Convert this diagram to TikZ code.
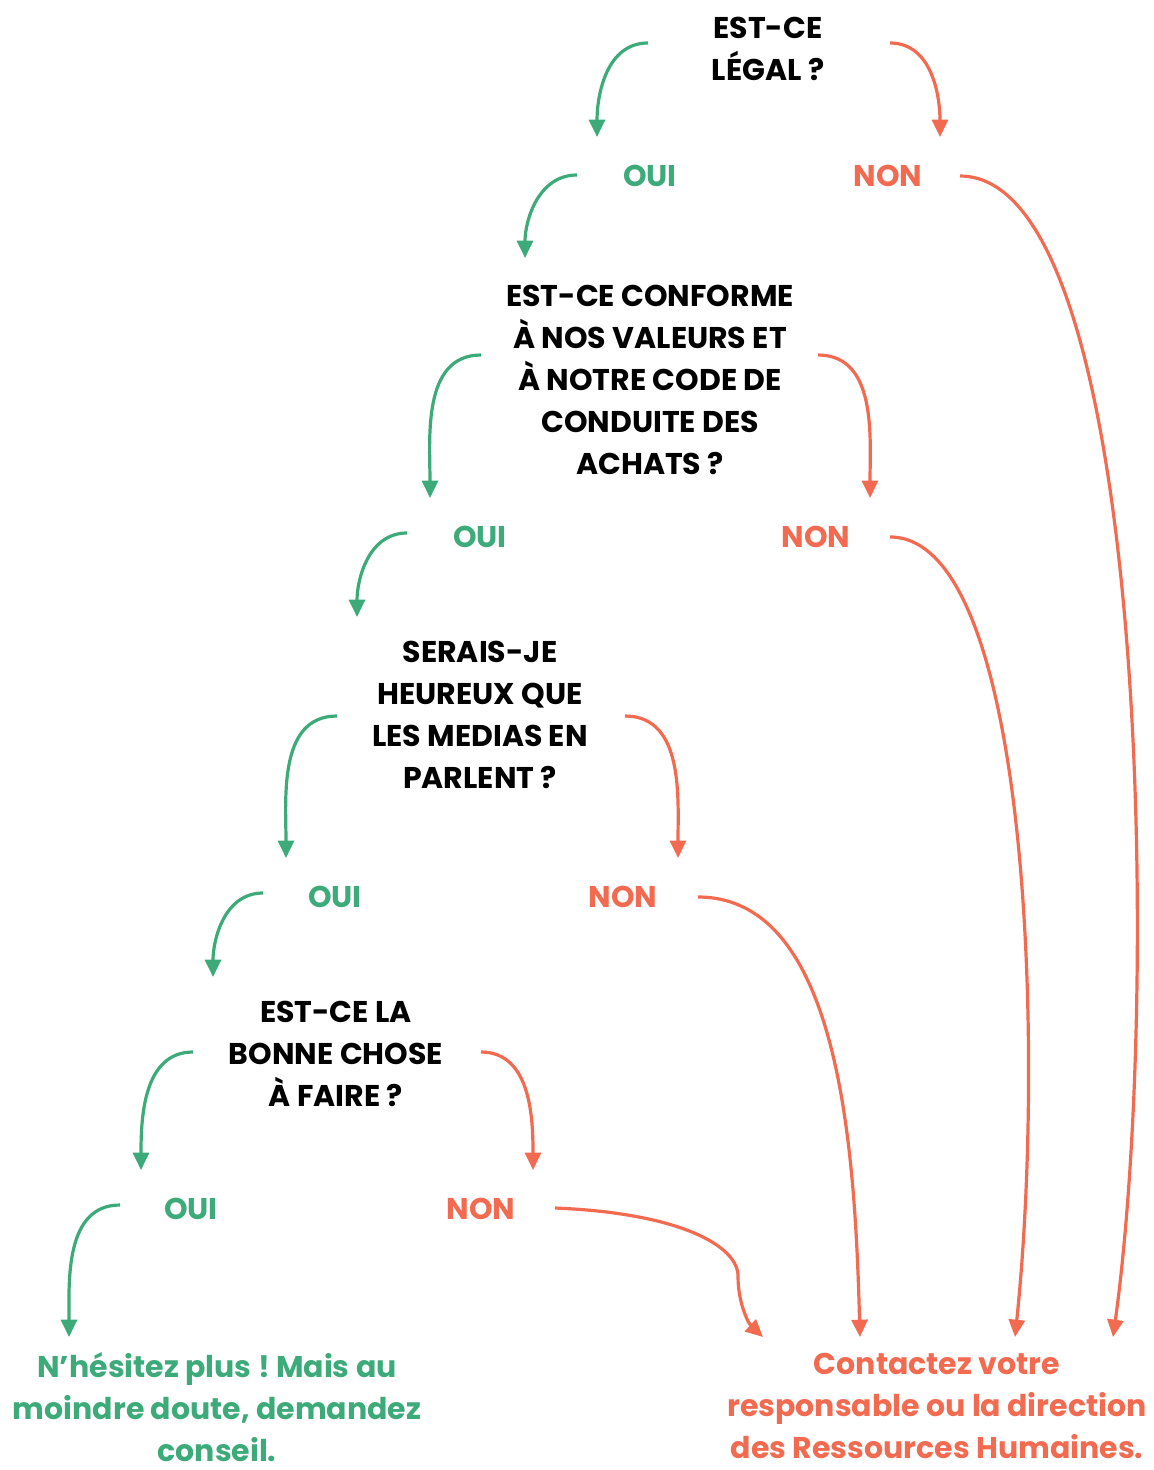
\documentclass[tikz,border=0pt]{standalone}
\usepackage{fontspec}
\setmainfont{Poppins}
\frenchspacing
\usetikzlibrary{positioning,calc,arrows.meta}

\definecolor{ouigreen}{HTML}{3DAA7A}
\definecolor{nonred}{HTML}{F26A4F}

\tikzset{
  bigtext/.style={font=\bfseries\fontsize{22.5}{31.5}\selectfont, align=center, inner sep=0pt},
  question/.style={bigtext, text=black},
  ouilabel/.style={bigtext, text=ouigreen},
  nonlabel/.style={bigtext, text=nonred},
  ouiarrow/.style={draw=ouigreen, line width=2.4pt, -{Triangle[length=13pt,width=12pt]}},
  nonarrow/.style={draw=nonred, line width=2.4pt, -{Triangle[length=13pt,width=12pt]}},
}

\begin{document}
\begin{tikzpicture}[x=0.75pt, y=0.75pt]

\useasboundingbox (0,0) rectangle (1153,-1470);

% ======================================
% QUESTION 1: LEGAL
% ======================================
\node[question] (q1) at (768,-49) {EST-CE\\LÉGAL ?};
\node[ouilabel] (oui1) at (650,-176) {OUI};
\node[nonlabel] (non1) at (888,-176) {NON};
\draw [ouiarrow] ($(q1)+(-120,6)$) to [out=180, in=90] ($(oui1)+(-53,39)$);
\draw [nonarrow] ($(q1)+(122,6)$) to [out=0, in=90] ($(non1)+(52,39)$);

% ======================================
% QUESTION 2: VALEURS ET CODE
% ======================================
\node[question] (q2) at (650,-380) {EST-CE CONFORME\\À NOS VALEURS ET\\À NOTRE CODE DE\\CONDUITE DES\\ACHATS ?};
\draw [ouiarrow] ($(oui1)+(-73,1)$) to [out=180, in=90] ($(q2)+(-125,122)$);
\node[ouilabel] (oui2) at (480,-537) {OUI};
\node[nonlabel] (non2) at (816,-537) {NON};
\draw [ouiarrow] ($(q2)+(-169,25)$) to [out=180, in=90] ($(oui2)+(-50,39)$);
\draw [nonarrow] ($(q2)+(168,25)$) to [out=0, in=90] ($(non2)+(54,39)$);

% ======================================
% QUESTION 3: MEDIAS
% ======================================
\node[question] (q3) at (480,-715) {SERAIS-JE\\HEUREUX QUE\\LES MEDIAS EN\\PARLENT ?};
\draw [ouiarrow] ($(oui2)+(-73,4)$) to [out=180, in=90] ($(q3)+(-123,98)$);
\node[ouilabel] (oui3) at (335,-897) {OUI};
\node[nonlabel] (non3) at (623,-897) {NON};
\draw [ouiarrow] ($(q3)+(-143,-1)$) to [out=180, in=90] ($(oui3)+(-49,39)$);
\draw [nonarrow] ($(q3)+(145,-1)$) to [out=0, in=90] ($(non3)+(55,39)$);

% ======================================
% QUESTION 4: BONNE CHOSE
% ======================================
\node[question] (q4) at (336,-1054) {EST-CE LA\\BONNE CHOSE\\À FAIRE ?};
\draw [ouiarrow] ($(oui3)+(-72,4)$) to [out=180, in=90] ($(q4)+(-123,77)$);
\node[ouilabel] (oui4) at (191,-1209) {OUI};
\node[nonlabel] (non4) at (481,-1209) {NON};
\draw [ouiarrow] ($(q4)+(-143,2)$) to [out=180, in=90] ($(oui4)+(-50,39)$);
\draw [nonarrow] ($(q4)+(145,2)$) to [out=0, in=90] ($(non4)+(52,39)$);

% ======================================
% ENDINGS
% ======================================
\node[ouilabel] (go) at (217,-1407) {N’hésitez plus ! Mais au\\moindre doute, demandez\\conseil.};
\node[nonlabel] (stop) at (937,-1406) {Contactez votre\\responsable ou la direction\\des Ressources Humaines.};
\draw [ouiarrow] ($(oui4)+(-71,4)$) to [out=180, in=90] ($(go)+(-148,70)$);

\draw [nonarrow] ($(non1)+(72,0)$) .. controls +(190,0) and +(47,337) .. ($(stop)+(176,69)$);
\draw [nonarrow] ($(non2)+(74,0)$) .. controls +(140,0) and +(30,287) .. ($(stop)+(78,69)$);
\draw [nonarrow] ($(non3)+(75,0)$) .. controls +(142,0) and +(-5,187) .. ($(stop)+(-77,69)$);
\draw [nonarrow] ($(non4)+(74,1)$) .. controls +(125,-5) and +(0,30) .. ++(183,-68)
  .. controls +(0,-30) and +(-13,12) .. ($(stop)+(-174,69)$);

\end{tikzpicture}
\end{document}
